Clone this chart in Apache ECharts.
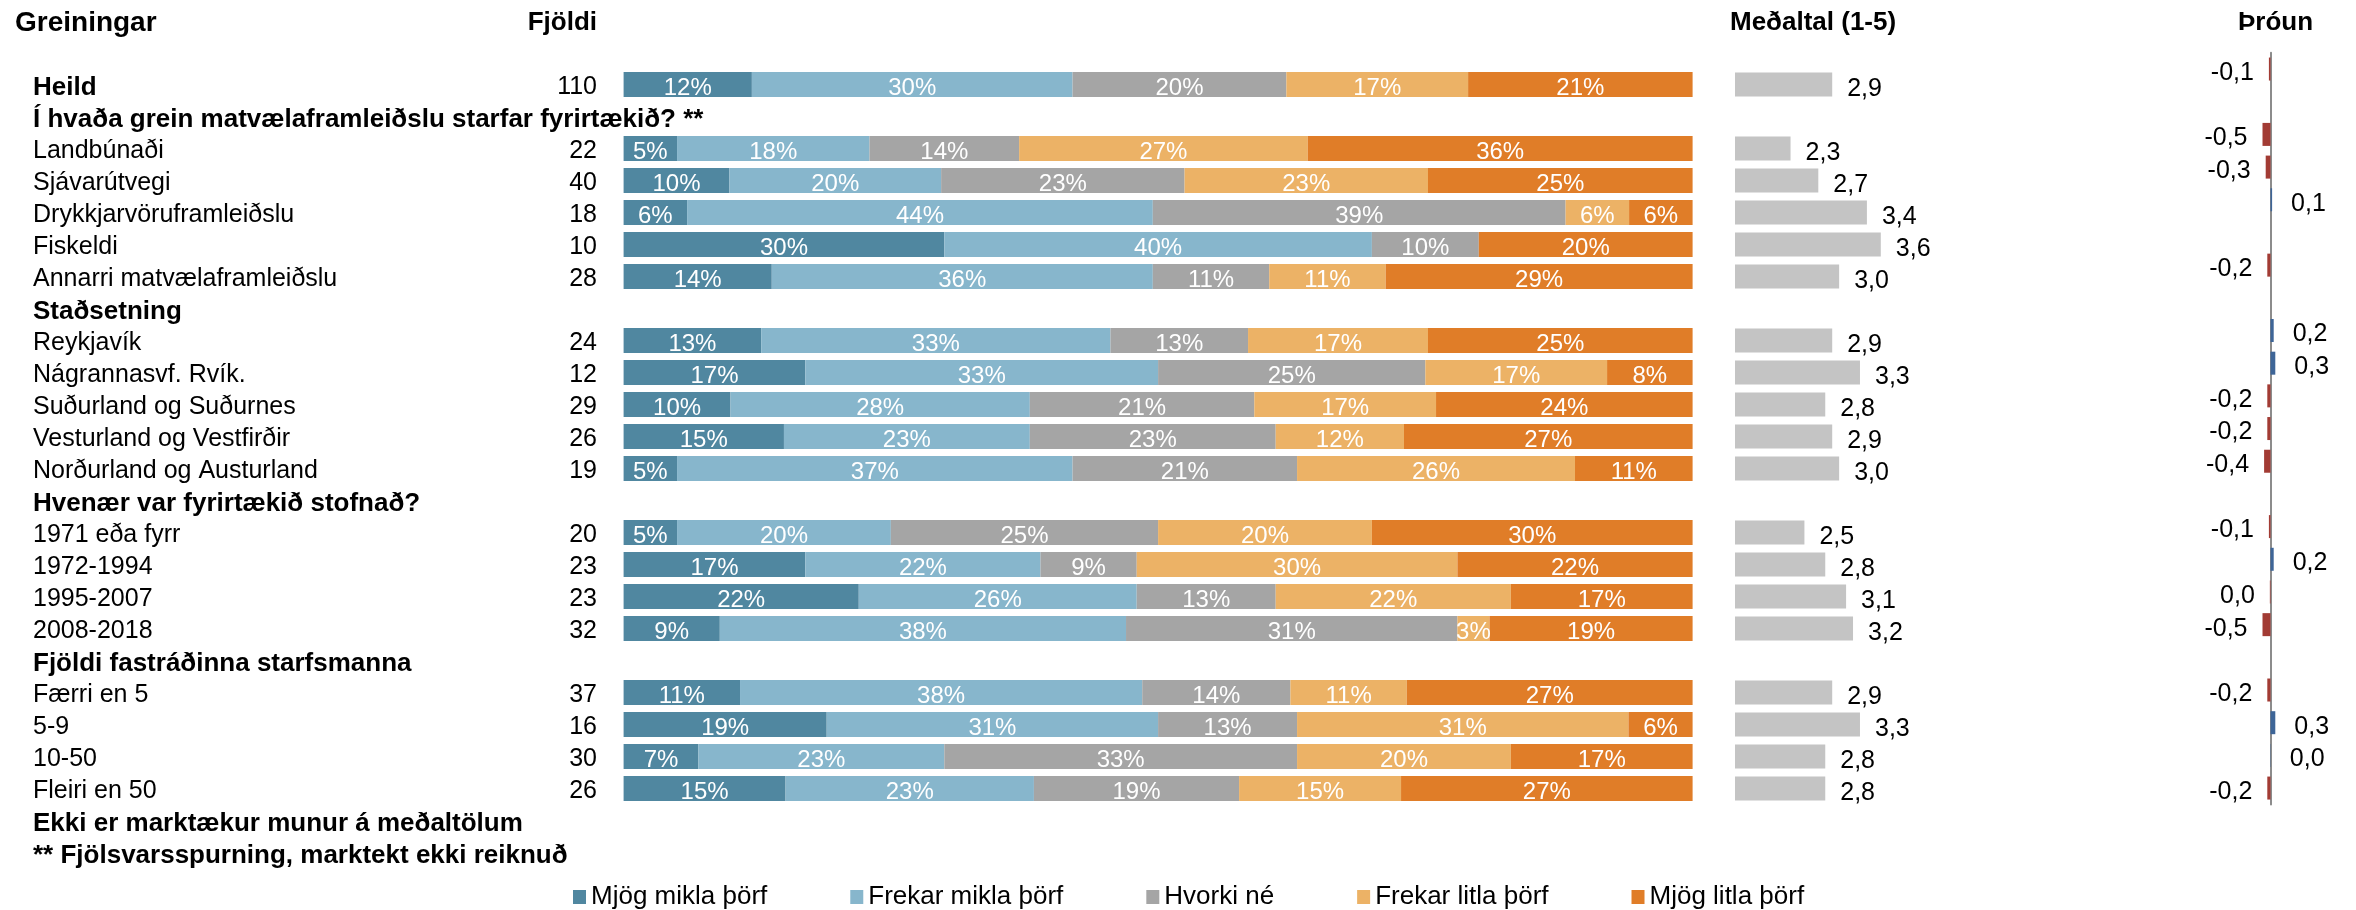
<!DOCTYPE html>
<html>
<head>
<meta charset="utf-8">
<script src="https://cdn.jsdelivr.net/npm/echarts@6/dist/echarts.min.js"></script>
<style>
html,body{margin:0;padding:0;background:#fff;}
#c{width:2356px;height:910px;}
</style>
</head>
<body>
<div id="c"></div>
<script>
// ---------- DATA ----------
const categories = [
  'Heild',
  'Í hvaða grein matvælaframleiðslu starfar fyrirtækið? **',
  'Landbúnaði','Sjávarútvegi','Drykkjarvöruframleiðslu','Fiskeldi','Annarri matvælaframleiðslu',
  'Staðsetning',
  'Reykjavík','Nágrannasvf. Rvík.','Suðurland og Suðurnes','Vesturland og Vestfirðir','Norðurland og Austurland',
  'Hvenær var fyrirtækið stofnað?',
  '1971 eða fyrr','1972-1994','1995-2007','2008-2018',
  'Fjöldi fastráðinna starfsmanna',
  'Færri en 5','5-9','10-50','Fleiri en 50',
  'Ekki er marktækur munur á meðaltölum',
  '** Fjölsvarsspurning, marktekt ekki reiknuð'
];
const headingRows = ['Heild','Í hvaða grein matvælaframleiðslu starfar fyrirtækið? **','Staðsetning',
  'Hvenær var fyrirtækið stofnað?','Fjöldi fastráðinna starfsmanna',
  'Ekki er marktækur munur á meðaltölum','** Fjölsvarsspurning, marktekt ekki reiknuð'];
const counts = [110,null,22,40,18,10,28,null,24,12,29,26,19,null,20,23,23,32,null,37,16,30,26,null,null];

const seriesNames = ['Mjög mikla þörf','Frekar mikla þörf','Hvorki né','Frekar litla þörf','Mjög litla þörf'];
const mjogMikla   = [12,null, 5,10, 6,30,14,null,13,17,10,15, 5,null, 5,17,22, 9,null,11,19, 7,15,null,null];
const frekarMikla = [30,null,18,20,44,40,36,null,33,33,28,23,37,null,20,22,26,38,null,38,31,23,23,null,null];
const hvorki      = [20,null,14,23,39,10,11,null,13,25,21,23,21,null,25, 9,13,31,null,14,13,33,19,null,null];
const frekarLitla = [17,null,27,23, 6, 0,11,null,17,17,17,12,26,null,20,30,22, 3,null,11,31,20,15,null,null];
const mjogLitla   = [21,null,36,25, 6,20,29,null,25, 8,24,27,11,null,30,22,17,19,null,27, 6,17,27,null,null];

const means = [2.9,null,2.3,2.7,3.4,3.6,3.0,null,2.9,3.3,2.8,2.9,3.0,null,2.5,2.8,3.1,3.2,null,2.9,3.3,2.8,2.8,null,null];

// Þróun (rows 0..22 of the categories)
const trend = [-0.1,null,-0.5,-0.3,0.1,null,-0.2,null,0.2,0.3,-0.2,-0.2,-0.4,null,-0.1,0.2,-0.04,-0.5,null,-0.2,0.3,0.02,-0.2];

// ---------- CHART ----------
const FONT = "'Liberation Sans', Arial, sans-serif";
const colors = ['#5087a0','#87b6cc','#a5a5a5','#ecb266','#e07d28'];
const raw = [mjogMikla, frekarMikla, hvorki, frekarLitla, mjogLitla];
const rowTotals = categories.map((c,i)=>{
  let s=0, any=false;
  raw.forEach(a=>{ if(a[i]!=null){s+=a[i]; any=true;} });
  return any ? s : null;
});
const comma = v => v.toFixed(1).replace('.', ',');

const stackSeries = raw.map((arr,k)=>({
  name: seriesNames[k],
  type:'bar', stack:'s', xAxisIndex:0, yAxisIndex:0,
  barWidth:25,
  itemStyle:{color:colors[k]},
  data: arr.map((v,i)=> v==null ? null : v/rowTotals[i]*100),
  label:{show:true, position:'inside', color:'#fff', fontSize:24, fontFamily:FONT, offset:[0,4],
    formatter:p=>{ const v=arr[p.dataIndex]; return (v==null||v===0)?'':v+'%'; }},
  emphasis:{disabled:true}, animation:false
}));

const trendCats = categories.slice(0, trend.length);

const option = {
  animation:false,
  textStyle:{fontFamily:FONT},
  color:colors,
  title:[
    {text:'Greiningar', left:15, top:9, padding:0, textStyle:{fontSize:28,fontWeight:'bold',color:'#000',fontFamily:FONT}},
    {text:'Fjöldi', right:1759, top:10, padding:0, textStyle:{fontSize:26,fontWeight:'bold',color:'#000',fontFamily:FONT}},
    {text:'Meðaltal (1-5)', left:1730, top:10, padding:0, textStyle:{fontSize:26,fontWeight:'bold',color:'#000',fontFamily:FONT}},
    {text:'Þróun', left:2238, top:10, padding:0, textStyle:{fontSize:26,fontWeight:'bold',color:'#000',fontFamily:FONT}}
  ],
  legend:{
    data:seriesNames, left:573, top:884, padding:0, icon:'rect',
    itemWidth:13, itemHeight:14, itemGap:83,
    textStyle:{fontSize:26, color:'#000', fontFamily:FONT}
  },
  grid:[
    {left:623.6, top:68.5, width:1069, height:800, containLabel:false, outerBoundsMode:'none'},
    {left:1735, top:68.5, width:243, height:800, containLabel:false, outerBoundsMode:'none'},
    {left:2254.5, top:52.7, width:32, height:751.7, containLabel:false, outerBoundsMode:'none'}
  ],
  xAxis:[
    {gridIndex:0, type:'value', min:0, max:100, show:false},
    {gridIndex:1, type:'value', min:1.5, max:5, show:false},
    {gridIndex:2, type:'value', min:-1, max:1, show:false}
  ],
  yAxis:[
    {gridIndex:0, type:'category', data:categories, inverse:true,
      axisLine:{show:false}, axisTick:{show:false},
      axisLabel:{show:true, interval:0, align:'left', margin:590.6, color:'#000', padding:[6,0,0,0],
        formatter:v=> headingRows.includes(v) ? '{b|'+v+'}' : '{n|'+v+'}',
        rich:{
          b:{fontSize:26,fontWeight:'bold',color:'#000',fontFamily:FONT},
          n:{fontSize:25,color:'#000',fontFamily:FONT}
        }}},
    {gridIndex:0, type:'category', data:counts.map(c=>c==null?'':String(c)), inverse:true, position:'left', offset:0,
      axisLine:{show:false}, axisTick:{show:false},
      axisLabel:{show:true, interval:0, align:'right', margin:26.6, color:'#000', padding:[6,0,0,0],
        formatter:v=> v==='' ? '' : '{n|'+v+'}',
        rich:{ n:{fontSize:25,color:'#000',fontFamily:FONT} }}},
    {gridIndex:1, type:'category', data:categories, inverse:true, show:false},
    {gridIndex:2, type:'category', data:trendCats, inverse:true,
      axisLine:{show:true, onZero:true, lineStyle:{color:'#8c8c8c', width:2}},
      axisTick:{show:false}, axisLabel:{show:false}, splitLine:{show:false}}
  ],
  series:[
    ...stackSeries,
    {
      name:'Meðaltal', type:'bar', xAxisIndex:1, yAxisIndex:2, barWidth:24,
      itemStyle:{color:'#c4c4c4'},
      data:means,
      label:{show:true, position:'right', distance:15, fontSize:25, color:'#000', fontFamily:FONT, offset:[0,5],
        formatter:p=> p.value==null?'':comma(p.value)},
      emphasis:{disabled:true}
    },
    {
      name:'Þróun', type:'bar', xAxisIndex:2, yAxisIndex:3, barWidth:23,
      data:trend.map(v=> v==null ? null : {
        value:v,
        itemStyle:{color: v<0 ? '#a23b34' : '#3e6597'},
        label:{position: v<0 ? 'left' : 'right', distance: v<0 ? 15 : 19}
      }),
      label:{show:true, fontSize:25, color:'#000', fontFamily:FONT, offset:[0,4],
        formatter:p=>{ const v=p.value; if(v==null) return ''; return Math.abs(v)<0.05 ? '0,0' : comma(v); }},
      emphasis:{disabled:true}
    }
  ]
};

const chart = echarts.init(document.getElementById('c'), null, {renderer:'canvas'});
chart.setOption(option);
</script>
</body>
</html>
